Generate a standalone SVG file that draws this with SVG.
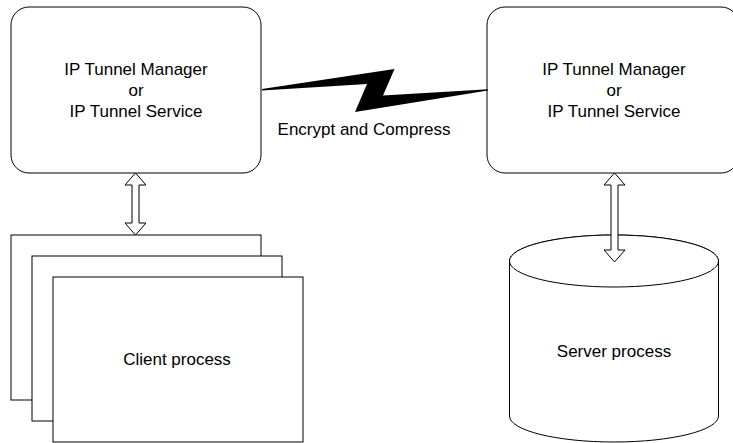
<svg xmlns="http://www.w3.org/2000/svg" width="733" height="443" viewBox="0 0 733 443">
<style>
.box{fill:#fff;stroke:#000;stroke-width:1}
.lbl{font-family:"Liberation Sans",Arial,sans-serif;font-size:17px;fill:#000;text-anchor:middle}
.arr{fill:#fff;stroke:#000;stroke-width:1;stroke-linejoin:miter}
</style>
<rect width="733" height="443" fill="#fff"/>
<g id="mgr-left">
<rect class="box" x="11" y="7" width="250" height="166" rx="18" ry="18"/>
<text class="lbl" x="136" y="75">IP Tunnel Manager</text>
<text class="lbl" x="136" y="96">or</text>
<text class="lbl" x="136" y="117">IP Tunnel Service</text>
</g>
<g id="mgr-right">
<rect class="box" x="487" y="7" width="252" height="166" rx="18" ry="18"/>
<text class="lbl" x="614" y="75">IP Tunnel Manager</text>
<text class="lbl" x="614" y="96">or</text>
<text class="lbl" x="614" y="117">IP Tunnel Service</text>
</g>
<g id="client">
<rect class="box" x="11" y="235" width="250" height="165"/>
<rect class="box" x="32" y="256" width="250" height="165"/>
<rect class="box" x="53" y="277" width="250" height="165"/>
<text class="lbl" x="177" y="365">Client process</text>
</g>
<g id="server">
<path class="box" d="M509.5,261 L509.5,416 A104.5,26 0 0 0 718.5,416 L718.5,261 A104.5,26 0 0 0 509.5,261 Z"/>
<ellipse class="box" cx="614" cy="261" rx="104.5" ry="26"/>
<text class="lbl" x="614" y="357">Server process</text>
</g>
<g id="connectors">
<polygon fill="#000" points="262,89 394.5,69 383,95.5 488,89.3 488,90.5 355,112 367,84 262,90.6"/>
<text class="lbl" x="364" y="135">Encrypt and Compress</text>
<path class="arr" d="M135.5,173 L146,185 L139,185 L139,223 L146,223 L135.5,235 L125,223 L132,223 L132,185 L125,185 Z"/>
<path class="arr" d="M614.5,173 L625,185 L618,185 L618,250 L625,250 L614.5,262 L604,250 L611,250 L611,185 L604,185 Z"/>
</g>
</svg>
